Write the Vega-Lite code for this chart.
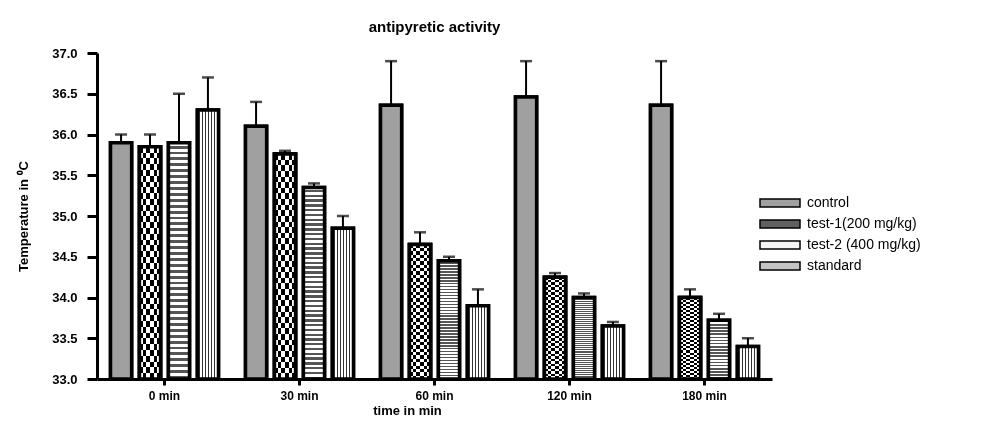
{
  "$schema": "https://vega.github.io/schema/vega-lite/v6.json",
  "width": 675,
  "height": 326,
  "autosize": {"type": "none"},
  "padding": {"left": 97, "top": 53, "right": 216, "bottom": 45},
  "background": "white",
  "title": {"text": "antipyretic activity", "fontSize": 15, "fontWeight": "bold", "font": "Liberation Sans", "color": "black", "anchor": "middle", "offset": 12},
  "config": {
    "view": {"stroke": null},
    "font": "Liberation Sans",
    "axis": {"domainColor": "black", "tickColor": "black", "labelColor": "black", "titleColor": "black", "grid": false}
  },
  "data": {"values": [
    {"time": "0 min", "group": "control", "value": 35.9, "upper": 36.0},
    {"time": "0 min", "group": "test-1(200 mg/kg)", "value": 35.85, "upper": 36.0},
    {"time": "0 min", "group": "test-2 (400 mg/kg)", "value": 35.9, "upper": 36.5},
    {"time": "0 min", "group": "standard", "value": 36.3, "upper": 36.7},
    {"time": "30 min", "group": "control", "value": 36.1, "upper": 36.4},
    {"time": "30 min", "group": "test-1(200 mg/kg)", "value": 35.76, "upper": 35.8},
    {"time": "30 min", "group": "test-2 (400 mg/kg)", "value": 35.35, "upper": 35.4},
    {"time": "30 min", "group": "standard", "value": 34.85, "upper": 35.0},
    {"time": "60 min", "group": "control", "value": 36.36, "upper": 36.9},
    {"time": "60 min", "group": "test-1(200 mg/kg)", "value": 34.65, "upper": 34.8},
    {"time": "60 min", "group": "test-2 (400 mg/kg)", "value": 34.45, "upper": 34.5},
    {"time": "60 min", "group": "standard", "value": 33.9, "upper": 34.1},
    {"time": "120 min", "group": "control", "value": 36.46, "upper": 36.9},
    {"time": "120 min", "group": "test-1(200 mg/kg)", "value": 34.25, "upper": 34.3},
    {"time": "120 min", "group": "test-2 (400 mg/kg)", "value": 34.0, "upper": 34.05},
    {"time": "120 min", "group": "standard", "value": 33.65, "upper": 33.7},
    {"time": "180 min", "group": "control", "value": 36.36, "upper": 36.9},
    {"time": "180 min", "group": "test-1(200 mg/kg)", "value": 34.0, "upper": 34.1},
    {"time": "180 min", "group": "test-2 (400 mg/kg)", "value": 33.72, "upper": 33.8},
    {"time": "180 min", "group": "standard", "value": 33.4, "upper": 33.5}
  ]},
  "encoding": {
    "x": {
      "field": "time", "type": "nominal",
      "sort": ["0 min", "30 min", "60 min", "120 min", "180 min"],
      "scale": {"paddingInner": 0.2, "paddingOuter": 0.1},
      "axis": {"title": "time in min", "labelAngle": 0, "labelFont": "Liberation Sans", "labelFontWeight": "bold", "labelFontSize": 12, "labelPadding": 5, "tickSize": 6, "tickWidth": 3, "domainWidth": 3, "titleFontSize": 13, "titleFontWeight": "bold", "titlePadding": 3, "titleX": 310, "titleAnchor": "middle"}
    },
    "xOffset": {
      "field": "group", "type": "nominal",
      "sort": ["control", "test-1(200 mg/kg)", "test-2 (400 mg/kg)", "standard"],
      "scale": {"domain": ["control", "test-1(200 mg/kg)", "test-2 (400 mg/kg)", "standard"], "paddingInner": 0.27, "paddingOuter": 0}
    },
    "y": {
      "field": "value", "type": "quantitative",
      "scale": {"domain": [33, 37], "zero": false, "nice": false},
      "axis": {"title": "Temperature in ⁰C", "values": [33, 33.5, 34, 34.5, 35, 35.5, 36, 36.5, 37], "format": ".1f", "labelFont": "Liberation Sans", "labelFontWeight": "bold", "labelFontSize": 13, "labelPadding": 10, "tickSize": 10, "tickWidth": 3, "domainWidth": 3, "titleFontSize": 13, "titleFontWeight": "bold", "titlePadding": 21}
    }
  },
  "layer": [
    {
      "mark": {"type": "rule", "strokeWidth": 2, "color": "black"},
      "encoding": {
        "y2": {"field": "upper"}
      }
    },
    {
      "mark": {"type": "tick", "size": 12, "thickness": 2.5, "color": "black", "orient": "horizontal"},
      "encoding": {
        "y": {"field": "upper", "type": "quantitative"}
      }
    },
    {
      "mark": {"type": "bar", "stroke": "black", "strokeWidth": 3.5, "strokeJoin": "miter"},
      "encoding": {
        "y2": {"datum": 33},
        "fill": {
          "field": "group", "type": "nominal",
          "sort": ["control", "test-1(200 mg/kg)", "test-2 (400 mg/kg)", "standard"],
          "scale": {"domain": ["control", "test-1(200 mg/kg)", "test-2 (400 mg/kg)", "standard"],
            "range": ["#a0a0a0", "#606060", "#f4f4f4", "#c4c4c4"]},
          "legend": {
            "title": null, "orient": "none", "legendX": 661, "legendY": 143,
            "symbolType": "M-1,-0.8H7V0.8H-1Z", "symbolSize": 100,
            "labelFont": "Liberation Sans", "labelFontSize": 14, "labelColor": "black",
            "labelOffset": 35, "rowPadding": 7, "symbolOpacity": 1,
            "encode": {"symbols": {
              "stroke": {"value": "black"},
              "strokeWidth": {"value": 3}
            }}
          }
        }
      }
    },
    {
      "mark": {"type": "bar", "stroke": "black", "strokeWidth": 3.5, "strokeJoin": "miter"},
      "encoding": {
        "y2": {"datum": 33},
        "fill": {
          "condition": [
            {"test": "datum.group === 'standard'", "value": {"gradient": "linear", "x1": 0, "y1": 0, "x2": 1, "y2": 0, "stops": [
                {"offset": 0, "color": "#fff"}, {"offset": 0.0857, "color": "#fff"}, {"offset": 0.0857, "color": "#333"}, {"offset": 0.1429, "color": "#333"},
                {"offset": 0.1429, "color": "#fff"}, {"offset": 0.2286, "color": "#fff"}, {"offset": 0.2286, "color": "#333"}, {"offset": 0.2857, "color": "#333"},
                {"offset": 0.2857, "color": "#fff"}, {"offset": 0.3714, "color": "#fff"}, {"offset": 0.3714, "color": "#333"}, {"offset": 0.4286, "color": "#333"},
                {"offset": 0.4286, "color": "#fff"}, {"offset": 0.5143, "color": "#fff"}, {"offset": 0.5143, "color": "#333"}, {"offset": 0.5714, "color": "#333"},
                {"offset": 0.5714, "color": "#fff"}, {"offset": 0.6571, "color": "#fff"}, {"offset": 0.6571, "color": "#333"}, {"offset": 0.7143, "color": "#333"},
                {"offset": 0.7143, "color": "#fff"}, {"offset": 0.8, "color": "#fff"}, {"offset": 0.8, "color": "#333"}, {"offset": 0.8571, "color": "#333"},
                {"offset": 0.8571, "color": "#fff"}, {"offset": 0.9429, "color": "#fff"}, {"offset": 0.9429, "color": "#333"}, {"offset": 1, "color": "#333"}
              ]}},
            {"test": "datum.group === 'test-2 (400 mg/kg)'", "value": {"gradient": "linear", "x1": 0, "y1": 0, "x2": 0, "y2": 1, "stops": [
                {"offset": 0, "color": "#fff"}, {"offset": 0.0125, "color": "#fff"}, {"offset": 0.0125, "color": "#555"}, {"offset": 0.025, "color": "#555"},
                {"offset": 0.025, "color": "#fff"}, {"offset": 0.0375, "color": "#fff"}, {"offset": 0.0375, "color": "#555"}, {"offset": 0.05, "color": "#555"},
                {"offset": 0.05, "color": "#fff"}, {"offset": 0.0625, "color": "#fff"}, {"offset": 0.0625, "color": "#555"}, {"offset": 0.075, "color": "#555"},
                {"offset": 0.075, "color": "#fff"}, {"offset": 0.0875, "color": "#fff"}, {"offset": 0.0875, "color": "#555"}, {"offset": 0.1, "color": "#555"},
                {"offset": 0.1, "color": "#fff"}, {"offset": 0.1125, "color": "#fff"}, {"offset": 0.1125, "color": "#555"}, {"offset": 0.125, "color": "#555"},
                {"offset": 0.125, "color": "#fff"}, {"offset": 0.1375, "color": "#fff"}, {"offset": 0.1375, "color": "#555"}, {"offset": 0.15, "color": "#555"},
                {"offset": 0.15, "color": "#fff"}, {"offset": 0.1625, "color": "#fff"}, {"offset": 0.1625, "color": "#555"}, {"offset": 0.175, "color": "#555"},
                {"offset": 0.175, "color": "#fff"}, {"offset": 0.1875, "color": "#fff"}, {"offset": 0.1875, "color": "#555"}, {"offset": 0.2, "color": "#555"},
                {"offset": 0.2, "color": "#fff"}, {"offset": 0.2125, "color": "#fff"}, {"offset": 0.2125, "color": "#555"}, {"offset": 0.225, "color": "#555"},
                {"offset": 0.225, "color": "#fff"}, {"offset": 0.2375, "color": "#fff"}, {"offset": 0.2375, "color": "#555"}, {"offset": 0.25, "color": "#555"},
                {"offset": 0.25, "color": "#fff"}, {"offset": 0.2625, "color": "#fff"}, {"offset": 0.2625, "color": "#555"}, {"offset": 0.275, "color": "#555"},
                {"offset": 0.275, "color": "#fff"}, {"offset": 0.2875, "color": "#fff"}, {"offset": 0.2875, "color": "#555"}, {"offset": 0.3, "color": "#555"},
                {"offset": 0.3, "color": "#fff"}, {"offset": 0.3125, "color": "#fff"}, {"offset": 0.3125, "color": "#555"}, {"offset": 0.325, "color": "#555"},
                {"offset": 0.325, "color": "#fff"}, {"offset": 0.3375, "color": "#fff"}, {"offset": 0.3375, "color": "#555"}, {"offset": 0.35, "color": "#555"},
                {"offset": 0.35, "color": "#fff"}, {"offset": 0.3625, "color": "#fff"}, {"offset": 0.3625, "color": "#555"}, {"offset": 0.375, "color": "#555"},
                {"offset": 0.375, "color": "#fff"}, {"offset": 0.3875, "color": "#fff"}, {"offset": 0.3875, "color": "#555"}, {"offset": 0.4, "color": "#555"},
                {"offset": 0.4, "color": "#fff"}, {"offset": 0.4125, "color": "#fff"}, {"offset": 0.4125, "color": "#555"}, {"offset": 0.425, "color": "#555"},
                {"offset": 0.425, "color": "#fff"}, {"offset": 0.4375, "color": "#fff"}, {"offset": 0.4375, "color": "#555"}, {"offset": 0.45, "color": "#555"},
                {"offset": 0.45, "color": "#fff"}, {"offset": 0.4625, "color": "#fff"}, {"offset": 0.4625, "color": "#555"}, {"offset": 0.475, "color": "#555"},
                {"offset": 0.475, "color": "#fff"}, {"offset": 0.4875, "color": "#fff"}, {"offset": 0.4875, "color": "#555"}, {"offset": 0.5, "color": "#555"},
                {"offset": 0.5, "color": "#fff"}, {"offset": 0.5125, "color": "#fff"}, {"offset": 0.5125, "color": "#555"}, {"offset": 0.525, "color": "#555"},
                {"offset": 0.525, "color": "#fff"}, {"offset": 0.5375, "color": "#fff"}, {"offset": 0.5375, "color": "#555"}, {"offset": 0.55, "color": "#555"},
                {"offset": 0.55, "color": "#fff"}, {"offset": 0.5625, "color": "#fff"}, {"offset": 0.5625, "color": "#555"}, {"offset": 0.575, "color": "#555"},
                {"offset": 0.575, "color": "#fff"}, {"offset": 0.5875, "color": "#fff"}, {"offset": 0.5875, "color": "#555"}, {"offset": 0.6, "color": "#555"},
                {"offset": 0.6, "color": "#fff"}, {"offset": 0.6125, "color": "#fff"}, {"offset": 0.6125, "color": "#555"}, {"offset": 0.625, "color": "#555"},
                {"offset": 0.625, "color": "#fff"}, {"offset": 0.6375, "color": "#fff"}, {"offset": 0.6375, "color": "#555"}, {"offset": 0.65, "color": "#555"},
                {"offset": 0.65, "color": "#fff"}, {"offset": 0.6625, "color": "#fff"}, {"offset": 0.6625, "color": "#555"}, {"offset": 0.675, "color": "#555"},
                {"offset": 0.675, "color": "#fff"}, {"offset": 0.6875, "color": "#fff"}, {"offset": 0.6875, "color": "#555"}, {"offset": 0.7, "color": "#555"},
                {"offset": 0.7, "color": "#fff"}, {"offset": 0.7125, "color": "#fff"}, {"offset": 0.7125, "color": "#555"}, {"offset": 0.725, "color": "#555"},
                {"offset": 0.725, "color": "#fff"}, {"offset": 0.7375, "color": "#fff"}, {"offset": 0.7375, "color": "#555"}, {"offset": 0.75, "color": "#555"},
                {"offset": 0.75, "color": "#fff"}, {"offset": 0.7625, "color": "#fff"}, {"offset": 0.7625, "color": "#555"}, {"offset": 0.775, "color": "#555"},
                {"offset": 0.775, "color": "#fff"}, {"offset": 0.7875, "color": "#fff"}, {"offset": 0.7875, "color": "#555"}, {"offset": 0.8, "color": "#555"},
                {"offset": 0.8, "color": "#fff"}, {"offset": 0.8125, "color": "#fff"}, {"offset": 0.8125, "color": "#555"}, {"offset": 0.825, "color": "#555"},
                {"offset": 0.825, "color": "#fff"}, {"offset": 0.8375, "color": "#fff"}, {"offset": 0.8375, "color": "#555"}, {"offset": 0.85, "color": "#555"},
                {"offset": 0.85, "color": "#fff"}, {"offset": 0.8625, "color": "#fff"}, {"offset": 0.8625, "color": "#555"}, {"offset": 0.875, "color": "#555"},
                {"offset": 0.875, "color": "#fff"}, {"offset": 0.8875, "color": "#fff"}, {"offset": 0.8875, "color": "#555"}, {"offset": 0.9, "color": "#555"},
                {"offset": 0.9, "color": "#fff"}, {"offset": 0.9125, "color": "#fff"}, {"offset": 0.9125, "color": "#555"}, {"offset": 0.925, "color": "#555"},
                {"offset": 0.925, "color": "#fff"}, {"offset": 0.9375, "color": "#fff"}, {"offset": 0.9375, "color": "#555"}, {"offset": 0.95, "color": "#555"},
                {"offset": 0.95, "color": "#fff"}, {"offset": 0.9625, "color": "#fff"}, {"offset": 0.9625, "color": "#555"}, {"offset": 0.975, "color": "#555"},
                {"offset": 0.975, "color": "#fff"}, {"offset": 0.9875, "color": "#fff"}, {"offset": 0.9875, "color": "#555"}, {"offset": 1, "color": "#555"}
              ]}},
            {"test": "datum.group === 'control'", "value": "#a0a0a0"}
          ],
          "value": "#7a7a7a"
        }
      }
    },
    {
      "transform": [{"filter": "datum.group === 'test-1(200 mg/kg)'"}],
      "mark": {"type": "bar", "strokeWidth": 0},
      "encoding": {
        "y2": {"datum": 33},
        "fill": {"value": {"gradient": "linear", "x1": 0, "y1": 0, "x2": 1, "y2": 0, "stops": [
          {"offset": 0, "color": "#fff"}, {"offset": 0.1667, "color": "#fff"}, {"offset": 0.1667, "color": "#000"}, {"offset": 0.3333, "color": "#000"},
          {"offset": 0.3333, "color": "#fff"}, {"offset": 0.5, "color": "#fff"}, {"offset": 0.5, "color": "#000"}, {"offset": 0.6667, "color": "#000"},
          {"offset": 0.6667, "color": "#fff"}, {"offset": 0.8333, "color": "#fff"}, {"offset": 0.8333, "color": "#000"}, {"offset": 1, "color": "#000"}
        ]}}
      }
    },
    {
      "transform": [{"filter": "datum.group === 'test-1(200 mg/kg)'"}],
      "mark": {"type": "bar", "strokeWidth": 0, "blend": "difference"},
      "encoding": {
        "y2": {"datum": 33},
        "fill": {"value": {"gradient": "linear", "x1": 0, "y1": 0, "x2": 0, "y2": 1, "stops": [
          {"offset": 0, "color": "#fff"}, {"offset": 0.025, "color": "#fff"}, {"offset": 0.025, "color": "#000"}, {"offset": 0.05, "color": "#000"},
          {"offset": 0.05, "color": "#fff"}, {"offset": 0.075, "color": "#fff"}, {"offset": 0.075, "color": "#000"}, {"offset": 0.1, "color": "#000"},
          {"offset": 0.1, "color": "#fff"}, {"offset": 0.125, "color": "#fff"}, {"offset": 0.125, "color": "#000"}, {"offset": 0.15, "color": "#000"},
          {"offset": 0.15, "color": "#fff"}, {"offset": 0.175, "color": "#fff"}, {"offset": 0.175, "color": "#000"}, {"offset": 0.2, "color": "#000"},
          {"offset": 0.2, "color": "#fff"}, {"offset": 0.225, "color": "#fff"}, {"offset": 0.225, "color": "#000"}, {"offset": 0.25, "color": "#000"},
          {"offset": 0.25, "color": "#fff"}, {"offset": 0.275, "color": "#fff"}, {"offset": 0.275, "color": "#000"}, {"offset": 0.3, "color": "#000"},
          {"offset": 0.3, "color": "#fff"}, {"offset": 0.325, "color": "#fff"}, {"offset": 0.325, "color": "#000"}, {"offset": 0.35, "color": "#000"},
          {"offset": 0.35, "color": "#fff"}, {"offset": 0.375, "color": "#fff"}, {"offset": 0.375, "color": "#000"}, {"offset": 0.4, "color": "#000"},
          {"offset": 0.4, "color": "#fff"}, {"offset": 0.425, "color": "#fff"}, {"offset": 0.425, "color": "#000"}, {"offset": 0.45, "color": "#000"},
          {"offset": 0.45, "color": "#fff"}, {"offset": 0.475, "color": "#fff"}, {"offset": 0.475, "color": "#000"}, {"offset": 0.5, "color": "#000"},
          {"offset": 0.5, "color": "#fff"}, {"offset": 0.525, "color": "#fff"}, {"offset": 0.525, "color": "#000"}, {"offset": 0.55, "color": "#000"},
          {"offset": 0.55, "color": "#fff"}, {"offset": 0.575, "color": "#fff"}, {"offset": 0.575, "color": "#000"}, {"offset": 0.6, "color": "#000"},
          {"offset": 0.6, "color": "#fff"}, {"offset": 0.625, "color": "#fff"}, {"offset": 0.625, "color": "#000"}, {"offset": 0.65, "color": "#000"},
          {"offset": 0.65, "color": "#fff"}, {"offset": 0.675, "color": "#fff"}, {"offset": 0.675, "color": "#000"}, {"offset": 0.7, "color": "#000"},
          {"offset": 0.7, "color": "#fff"}, {"offset": 0.725, "color": "#fff"}, {"offset": 0.725, "color": "#000"}, {"offset": 0.75, "color": "#000"},
          {"offset": 0.75, "color": "#fff"}, {"offset": 0.775, "color": "#fff"}, {"offset": 0.775, "color": "#000"}, {"offset": 0.8, "color": "#000"},
          {"offset": 0.8, "color": "#fff"}, {"offset": 0.825, "color": "#fff"}, {"offset": 0.825, "color": "#000"}, {"offset": 0.85, "color": "#000"},
          {"offset": 0.85, "color": "#fff"}, {"offset": 0.875, "color": "#fff"}, {"offset": 0.875, "color": "#000"}, {"offset": 0.9, "color": "#000"},
          {"offset": 0.9, "color": "#fff"}, {"offset": 0.925, "color": "#fff"}, {"offset": 0.925, "color": "#000"}, {"offset": 0.95, "color": "#000"},
          {"offset": 0.95, "color": "#fff"}, {"offset": 0.975, "color": "#fff"}, {"offset": 0.975, "color": "#000"}, {"offset": 1, "color": "#000"}
        ]}}
      }
    },
    {
      "transform": [{"filter": "datum.group === 'test-1(200 mg/kg)'"}],
      "mark": {"type": "bar", "fill": null, "fillOpacity": 0, "stroke": "black", "strokeWidth": 3.5, "strokeJoin": "miter"},
      "encoding": {
        "y2": {"datum": 33}
      }
    }
  ]
}
